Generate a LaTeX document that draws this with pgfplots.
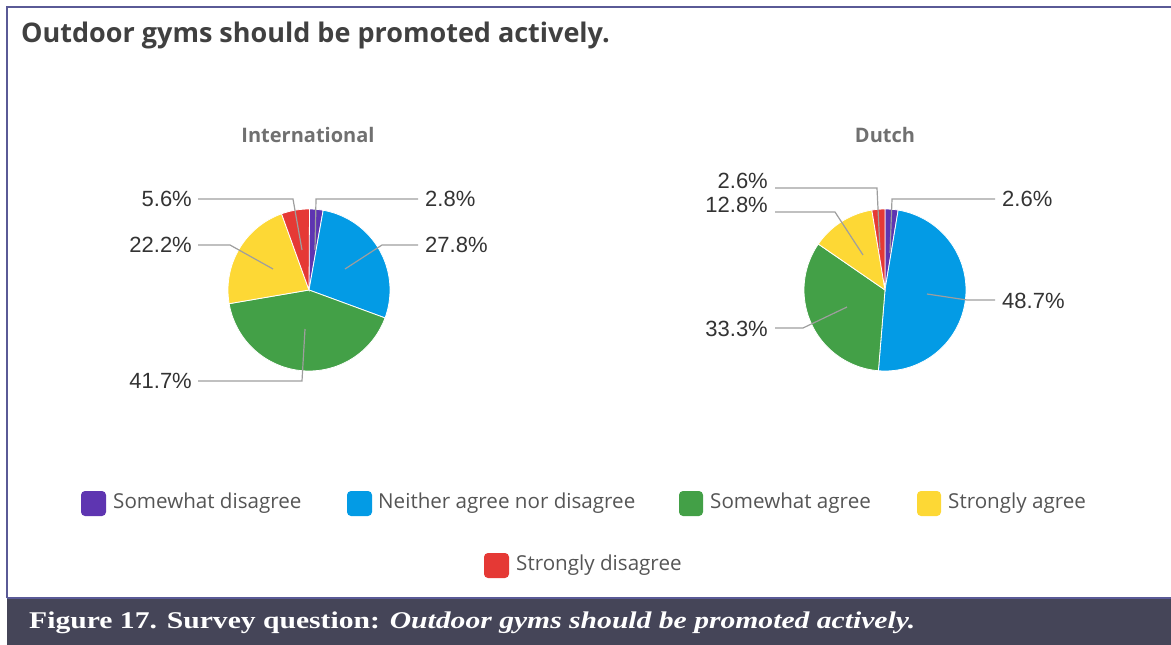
\documentclass[border=0pt]{standalone}
\usepackage{fontspec}
\setmainfont{Liberation Sans}
\newfontfamily\opensans{Open Sans}
\newfontfamily\capserif{Liberation Serif}
\usepackage{graphicx}
\usepackage{pgfplots}
\pgfplotsset{compat=1.18}
\definecolor{cPurple}{HTML}{5E35B1}
\definecolor{cBlue}{HTML}{039BE5}
\definecolor{cGreen}{HTML}{43A047}
\definecolor{cYellow}{HTML}{FDD835}
\definecolor{cRed}{HTML}{E53935}
\definecolor{frameC}{HTML}{5A5A96}
\definecolor{capBg}{HTML}{454558}
\definecolor{titleC}{HTML}{404040}
\definecolor{subC}{HTML}{707070}
\definecolor{labC}{HTML}{333333}
\definecolor{legC}{HTML}{555555}
\definecolor{leadC}{HTML}{9E9E9E}
\newcommand\cumul{0}
\newcommand\pieslice[5]{%
  \pgfmathsetmacro\aS{\cumul*3.6}%
  \pgfmathsetmacro\aE{(\cumul+#4)*3.6}%
  \edef\doit{\noexpand\addplot[fill=#5,draw=white,line width=0.8pt,domain=\aS:\aE,samples=90,variable=\noexpand\t] ({#1+#3*sin(\noexpand\t)},{#2-#3*cos(\noexpand\t)}) -- (axis cs:#1,#2) -- cycle;}%
  \doit
  \pgfmathsetmacro\tmp{\cumul+#4}\xdef\cumul{\tmp}}
\newcommand\lab{\fontsize{22}{26}\selectfont\color{labC}}
\newcommand\leg{\opensans\fontsize{20.6}{24}\selectfont\color{legC}}
\begin{document}
\begin{tikzpicture}
\begin{axis}[width=1171pt,height=645pt,scale only axis,
  xmin=0,xmax=1171,ymin=0,ymax=645,y dir=reverse,hide axis,clip=false]
% frame and caption bar
\draw[frameC,line width=2pt] (7,598) -- (7,7) -- (1171,7);
\fill[capBg] (7,598) rectangle (1171,645);
\draw[frameC,line width=2pt] (7,598) -- (1171,598);
\node[anchor=west,inner sep=0pt,text=white] at (29,623)
  {\resizebox{886pt}{\height}{\capserif\bfseries\fontsize{24}{28}\selectfont Figure 17. Survey question: \itshape Outdoor gyms should be promoted actively.}};
% title
\node[anchor=west,inner sep=0pt,text=titleC] at (21,35)
  {\opensans\bfseries\fontsize{27}{32}\selectfont Outdoor gyms should be promoted actively.};
\node[text=subC,inner sep=0pt] at (308,135) {\opensans\bfseries\fontsize{20}{24}\selectfont International};
\node[text=subC,inner sep=0pt] at (885,135) {\opensans\bfseries\fontsize{20}{24}\selectfont Dutch};
% International pie: Somewhat disagree, Neither, Somewhat agree, Strongly agree, Strongly disagree
\gdef\cumul{0}
\pieslice{309}{290}{81}{2.8}{cPurple}
\pieslice{309}{290}{81}{27.8}{cBlue}
\pieslice{309}{290}{81}{41.7}{cGreen}
\pieslice{309}{290}{81}{22.2}{cYellow}
\pieslice{309}{290}{81}{5.6}{cRed}
% Dutch pie
\gdef\cumul{0}
\pieslice{885}{290}{81}{2.6}{cPurple}
\pieslice{885}{290}{81}{48.7}{cBlue}
\pieslice{885}{290}{81}{33.3}{cGreen}
\pieslice{885}{290}{81}{12.8}{cYellow}
\pieslice{885}{290}{81}{2.6}{cRed}
% leader lines international
\draw[leadC,line width=1.2pt] (315,250) -- (316,199) -- (418,199);
\draw[leadC,line width=1.2pt] (345,269) -- (382,245) -- (418,245);
\draw[leadC,line width=1.2pt] (305,329) -- (302,381) -- (198,381);
\draw[leadC,line width=1.2pt] (273,269) -- (230,245) -- (198,245);
\draw[leadC,line width=1.2pt] (302,250) -- (293,199) -- (198,199);
\node[anchor=west,inner sep=0pt] at (425,199) {\lab 2.8\%};
\node[anchor=west,inner sep=0pt] at (425,245) {\lab 27.8\%};
\node[anchor=east,inner sep=0pt] at (192,381) {\lab 41.7\%};
\node[anchor=east,inner sep=0pt] at (192,245) {\lab 22.2\%};
\node[anchor=east,inner sep=0pt] at (192,199) {\lab 5.6\%};
% leader lines dutch
\draw[leadC,line width=1.2pt] (890,253) -- (892,199) -- (995,199);
\draw[leadC,line width=1.2pt] (927,294) -- (967,300) -- (995,300);
\draw[leadC,line width=1.2pt] (847,307) -- (803,328) -- (775,328);
\draw[leadC,line width=1.2pt] (863,255) -- (835,212) -- (775,212);
\draw[leadC,line width=1.2pt] (880,250) -- (877,188) -- (775,188);
\node[anchor=west,inner sep=0pt] at (1002,199) {\lab 2.6\%};
\node[anchor=west,inner sep=0pt] at (1002,301) {\lab 48.7\%};
\node[anchor=east,inner sep=0pt] at (768,329) {\lab 33.3\%};
\node[anchor=east,inner sep=0pt] at (768,205) {\lab 12.8\%};
\node[anchor=east,inner sep=0pt] at (768,181) {\lab 2.6\%};
% legend
\fill[cPurple,rounded corners=4pt] (81,491) rectangle (106,516);
\node[anchor=west,inner sep=0pt] at (113,503) {\leg Somewhat disagree};
\fill[cBlue,rounded corners=4pt] (347,491) rectangle (372,516);
\node[anchor=west,inner sep=0pt] at (378,503) {\leg Neither agree nor disagree};
\fill[cGreen,rounded corners=4pt] (679,491) rectangle (703,516);
\node[anchor=west,inner sep=0pt] at (710,503) {\leg Somewhat agree};
\fill[cYellow,rounded corners=4pt] (917,491) rectangle (941,516);
\node[anchor=west,inner sep=0pt] at (948,503) {\leg Strongly agree};
\fill[cRed,rounded corners=4pt] (484,553) rectangle (509,578);
\node[anchor=west,inner sep=0pt] at (516,565) {\leg Strongly disagree};
\end{axis}
\pgfresetboundingbox
\path (0,0) rectangle (1171pt,645pt);
\end{tikzpicture}
\end{document}
